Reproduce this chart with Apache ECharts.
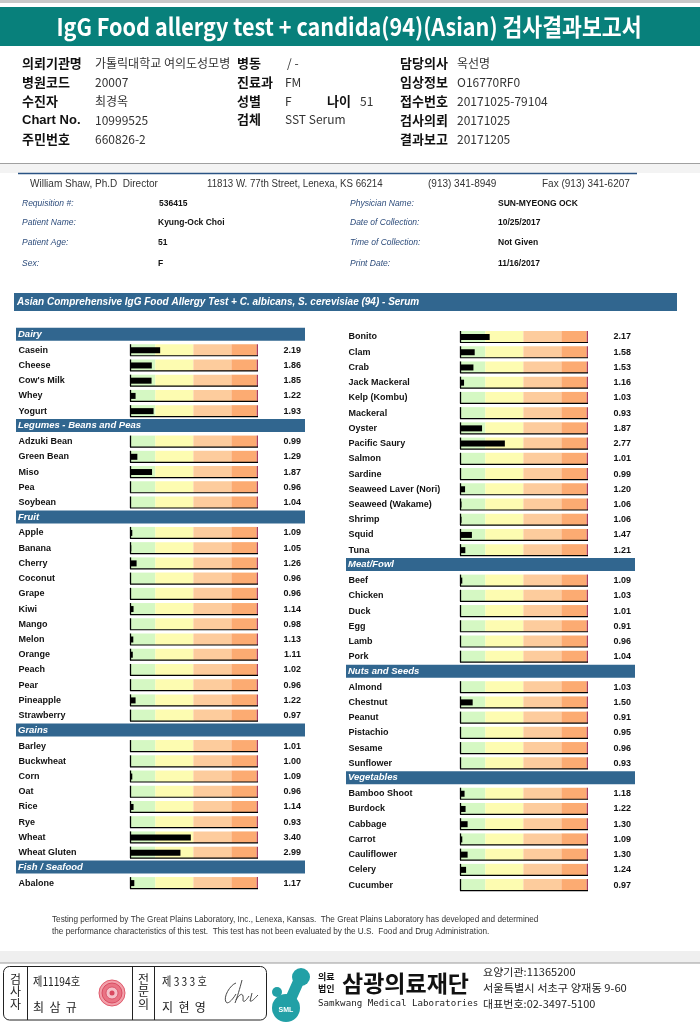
<!DOCTYPE html>
<html><head><meta charset="utf-8">
<script src="https://cdn.jsdelivr.net/npm/echarts@6/dist/echarts.min.js"></script>
<style>html,body{margin:0;padding:0;background:#fff}#c{width:700px;height:1031px}</style>
</head><body><div id="c"></div>
<script>
// ---------------- DATA ----------------
const groupNames = ['Dairy','Legumes - Beans and Peas','Fruit','Grains','Fish / Seafood','Meat/Fowl','Nuts and Seeds','Vegetables'];
const dairyFoods = ['Casein','Cheese',"Cow's Milk",'Whey','Yogurt'];
const dairyValues = [2.19,1.86,1.85,1.22,1.93];
const legumeFoods = ['Adzuki Bean','Green Bean','Miso','Pea','Soybean'];
const legumeValues = [0.99,1.29,1.87,0.96,1.04];
const fruitFoods = ['Apple','Banana','Cherry','Coconut','Grape','Kiwi','Mango','Melon','Orange','Peach','Pear','Pineapple','Strawberry'];
const fruitValues = [1.09,1.05,1.26,0.96,0.96,1.14,0.98,1.13,1.11,1.02,0.96,1.22,0.97];
const grainFoods = ['Barley','Buckwheat','Corn','Oat','Rice','Rye','Wheat','Wheat Gluten'];
const grainValues = [1.01,1.00,1.09,0.96,1.14,0.93,3.40,2.99];
const fishFoods = ['Abalone','Bonito','Clam','Crab','Jack Mackeral','Kelp (Kombu)','Mackeral','Oyster','Pacific Saury','Salmon','Sardine','Seaweed Laver (Nori)','Seaweed (Wakame)','Shrimp','Squid','Tuna'];
const fishValues = [1.17,2.17,1.58,1.53,1.16,1.03,0.93,1.87,2.77,1.01,0.99,1.20,1.06,1.06,1.47,1.21];
const meatFoods = ['Beef','Chicken','Duck','Egg','Lamb','Pork'];
const meatValues = [1.09,1.03,1.01,0.91,0.96,1.04];
const nutFoods = ['Almond','Chestnut','Peanut','Pistachio','Sesame','Sunflower'];
const nutValues = [1.03,1.50,0.91,0.95,0.96,0.93];
const vegFoods = ['Bamboo Shoot','Burdock','Cabbage','Carrot','Cauliflower','Celery','Cucumber'];
const vegValues = [1.18,1.22,1.30,1.09,1.30,1.24,0.97];
const zoneBreaks = [1, 2, 3.5, 5, 6, 6.05];
const rowsPerColumn = 37;

// ---------------- STYLE ----------------
const zoneColors = ['#d5f8c3','#fdfcb1','#fdcc9d','#fcab72','#a93c5e'];
const HEAD = '#31668f';
const KR = '"Noto Sans CJK KR"';
const LS = '"Liberation Sans"';

// build rows
const groups = [[dairyFoods,dairyValues],[legumeFoods,legumeValues],[fruitFoods,fruitValues],[grainFoods,grainValues],
  [fishFoods,fishValues],[meatFoods,meatValues],[nutFoods,nutValues],[vegFoods,vegValues]];
const rows = [];
groups.forEach((g, gi) => {
  rows.push({h: true, name: groupNames[gi]});
  g[0].forEach((n, i) => rows.push({h: false, name: n, value: g[1][i]}));
});
const cols = [rows.slice(0, rowsPerColumn), rows.slice(rowsPerColumn)];

const grids = [
  {left: 130, top: 327.4, width: 128, height: 563.3},
  {left: 460, top: 329.4, width: 128, height: 563.3}
];

const xAxis = [], yAxis = [], series = [];
cols.forEach((col, ci) => {
  xAxis.push({type: 'value', gridIndex: ci, min: 1, max: 6.05, show: false});
  yAxis.push({type: 'category', gridIndex: ci, inverse: true, data: col.map(r => r.name),
    axisLine: {show: false}, axisTick: {show: false}, splitLine: {show: false},
    axisLabel: {interval: 0, align: 'left', margin: 111.4, fontFamily: LS, fontWeight: 'bold', fontSize: 9, color: '#111',
      formatter: (v, i) => col[i].h ? '' : v}});
  yAxis.push({type: 'category', gridIndex: ci, inverse: true, position: 'right', data: col.map((r, i) => 'k' + i),
    axisLine: {show: false}, axisTick: {show: false}, splitLine: {show: false},
    axisLabel: {interval: 0, align: 'right', margin: 43, fontFamily: LS, fontWeight: 'bold', fontSize: 9, color: '#111',
      formatter: (v, i) => col[i].h ? '' : col[i].value.toFixed(2)}});
  series.push({
    type: 'custom', xAxisIndex: ci, yAxisIndex: ci * 2, z: 1, clip: false, silent: true,
    data: col.map((r, i) => [1, i, r.h ? 1 : 0]),
    encode: {x: 0, y: 1},
    renderItem: (params, api) => {
      const idx = api.value(1), isH = api.value(2);
      const c = api.coord([1, idx]);
      const cs = params.coordSys;
      if (isH) {
        return {type: 'group', children: [
          {type: 'rect', shape: {x: cs.x - 114, y: c[1] - 7.3, width: 289, height: 13}, style: {fill: HEAD}},
          {type: 'text', x: cs.x - 112, y: c[1] - 0.8, style: {text: col[idx].name, fill: '#fff', font: 'italic bold 9.5px ' + LS, verticalAlign: 'middle'}}
        ]};
      }
      const y0 = c[1] - 6, h = 11.5;
      const ch = [];
      for (let z = 0; z < zoneColors.length; z++) {
        const x1 = api.coord([zoneBreaks[z], idx])[0], x2 = api.coord([zoneBreaks[z + 1], idx])[0];
        ch.push({type: 'rect', shape: {x: x1, y: y0, width: x2 - x1, height: h}, style: {fill: zoneColors[z]}});
      }
      const xl = api.coord([zoneBreaks[0], idx])[0], xr = api.coord([zoneBreaks[zoneBreaks.length - 1], idx])[0];
      ch.push({type: 'line', shape: {x1: xl + 0.5, y1: y0, x2: xl + 0.5, y2: y0 + h}, style: {stroke: '#000', lineWidth: 1.3}});
      ch.push({type: 'line', shape: {x1: xl, y1: y0 + h, x2: xr, y2: y0 + h}, style: {stroke: '#000', lineWidth: 1.2}});
      return {type: 'group', children: ch};
    }
  });
  series.push({
    type: 'bar', xAxisIndex: ci, yAxisIndex: ci * 2, z: 3, clip: true, barWidth: 6, silent: true,
    itemStyle: {color: '#000'},
    data: col.map(r => r.h ? '-' : r.value)
  });
});

// ---------------- GRAPHIC (report text) ----------------
const g = [];
function T(x, y, text, font, fill, o) {
  o = o || {};
  const st = {text, font, fill, align: o.align || 'left', verticalAlign: 'middle'};
  if (o.width) { st.width = o.width; st.overflow = 'truncate'; st.ellipsis = ''; }
  g.push({type: 'text', x, y, scaleX: o.sx || 1, z: 20, style: st});
}
function R(x, y, w, h, fill, o) {
  o = o || {};
  g.push({type: 'rect', z: o.z || 0, shape: {x, y, width: w, height: h, r: o.r || 0},
    style: {fill: fill, stroke: o.stroke || null, lineWidth: o.lw || 1}});
}
function L(x1, y1, x2, y2, stroke, lw) {
  g.push({type: 'line', z: 5, shape: {x1, y1, x2, y2}, style: {stroke, lineWidth: lw || 1}});
}
function B(x1, y1, c1x, c1y, c2x, c2y, x2, y2) {
  g.push({type: 'bezierCurve', z: 8, shape: {x1, y1, cpx1: c1x, cpy1: c1y, cpx2: c2x, cpy2: c2y, x2, y2},
    style: {fill: null, stroke: '#333', lineWidth: 0.9}});
}

// top
R(0, 0, 700, 3, '#c8c8c8');
R(0, 7, 700, 39, '#08807b');
T(349, 27, 'IgG Food allergy test + candida(94)(Asian) 검사결과보고서', 'bold 24px ' + KR, '#fff', {align: 'center', sx: 0.9});

const lab = 'bold 13px ' + KR, val = '12px ' + KR, vc = '#333';
const ry = [63, 82, 101, 120.5, 139];
T(22, ry[0], '의뢰기관명', lab, '#111'); T(95, ry[0], '가톨릭대학교 여의도성모병원', val, vc, {width: 142});
T(22, ry[1], '병원코드', lab, '#111'); T(95, ry[1], '20007', val, vc);
T(22, ry[2], '수진자', lab, '#111'); T(95, ry[2], '최경옥', val, vc);
T(22, ry[3], 'Chart No.', 'bold 13px ' + LS, '#111'); T(95, ry[3], '10999525', val, vc);
T(22, ry[4], '주민번호', lab, '#111'); T(95, ry[4], '660826-2', val, vc);
T(237, ry[0], '병동', lab, '#111'); T(287, ry[0], '/ -', val, vc);
T(237, ry[1], '진료과', lab, '#111'); T(285, ry[1], 'FM', val, vc);
T(237, ry[2], '성별', lab, '#111'); T(285, ry[2], 'F', val, vc);
T(327, ry[2], '나이', lab, '#111'); T(360, ry[2], '51', val, vc);
T(237, ry[3] - 1, '검체', lab, '#111'); T(285, ry[3] - 1, 'SST Serum', val, vc);
T(400, ry[0], '담당의사', lab, '#111'); T(457, ry[0], '옥선명', val, vc);
T(400, ry[1], '임상정보', lab, '#111'); T(457, ry[1], 'O16770RF0', val, vc);
T(400, ry[2], '접수번호', lab, '#111'); T(457, ry[2], '20171025-79104', val, vc);
T(400, ry[3], '검사의뢰', lab, '#111'); T(457, ry[3], '20171025', val, vc);
T(400, ry[4], '결과보고', lab, '#111'); T(457, ry[4], '20171205', val, vc);

// lab header section
R(0, 163, 700, 10, '#f3f3f3');
L(0, 163.5, 700, 163.5, '#a0a0a0', 1);
L(18, 173.5, 637, 173.5, '#2a5384', 1.5);
const dir = '10px ' + LS;
T(30, 184, 'William Shaw, Ph.D  Director', dir, '#333');
T(207, 184, '11813 W. 77th Street, Lenexa, KS 66214', dir, '#333', {sx: 0.97});
T(428, 184, '(913) 341-8949', dir, '#333');
T(542, 184, 'Fax (913) 341-6207', dir, '#333');
const pl = 'italic 8.5px ' + LS, pv = 'bold 8.5px ' + LS, plc = '#2e4d7c';
const py = [204, 223, 243, 264];
T(22, py[0], 'Requisition #:', pl, plc); T(159, py[0], '536415', pv, '#111');
T(22, py[1], 'Patient Name:', pl, plc); T(158, py[1], 'Kyung-Ock Choi', pv, '#111');
T(22, py[2], 'Patient Age:', pl, plc); T(158, py[2], '51', pv, '#111');
T(22, py[3], 'Sex:', pl, plc); T(158, py[3], 'F', pv, '#111');
T(350, py[0], 'Physician Name:', pl, plc); T(498, py[0], 'SUN-MYEONG OCK', pv, '#111');
T(350, py[1], 'Date of Collection:', pl, plc); T(498, py[1], '10/25/2017', pv, '#111');
T(350, py[2], 'Time of Collection:', pl, plc); T(498, py[2], 'Not Given', pv, '#111');
T(350, py[3], 'Print Date:', pl, plc); T(498, py[3], '11/16/2017', pv, '#111');
R(14, 293, 663, 18, HEAD);
T(17, 302, 'Asian Comprehensive IgG Food Allergy Test + C. albicans, S. cerevisiae (94) - Serum', 'italic bold 10px ' + LS, '#fff');

// footnote
T(52, 920, 'Testing performed by The Great Plains Laboratory, Inc., Lenexa, Kansas.  The Great Plains Laboratory has developed and determined', '8.2px ' + LS, '#333');
T(52, 932, 'the performance characteristics of this test.  This test has not been evaluated by the U.S.  Food and Drug Administration.', '8.2px ' + LS, '#333');

// bottom
R(0, 951, 700, 12, '#efefef');
L(0, 963, 700, 963, '#9a9a9a', 1);
R(3.5, 966.5, 263, 53.5, null, {stroke: '#222', lw: 1, r: 6, z: 5});
L(27.5, 966.5, 27.5, 1020, '#222', 1);
L(132.5, 966.5, 132.5, 1020, '#222', 1);
L(154.5, 966.5, 154.5, 1020, '#222', 1);
const bk = '12px ' + KR;
T(15.5, 979, '검', bk, '#222', {align: 'center'}); T(15.5, 991, '사', bk, '#222', {align: 'center'}); T(15.5, 1004, '자', bk, '#222', {align: 'center'});
T(143.5, 979, '전', bk, '#222', {align: 'center'}); T(143.5, 991, '문', bk, '#222', {align: 'center'}); T(143.5, 1004, '의', bk, '#222', {align: 'center'});
T(33, 981, '제11194호', bk, '#222', {sx: 0.85});
T(33, 1007, '최  삼  규', bk, '#222');
T(162, 981, '제 3 3 3 호', bk, '#222', {sx: 0.85});
T(162, 1007, '지  현  영', bk, '#222');
g.push({type: 'circle', z: 6, shape: {cx: 112, cy: 993, r: 13}, style: {fill: '#f2a0aa', stroke: '#e05a6c', lineWidth: 1}});
g.push({type: 'circle', z: 7, shape: {cx: 112, cy: 993, r: 10}, style: {fill: '#e97484', stroke: '#d33e56', lineWidth: 0.8}});
g.push({type: 'circle', z: 8, shape: {cx: 112, cy: 993, r: 6}, style: {fill: '#f5c0c8', stroke: '#d33e56', lineWidth: 0.7}});
g.push({type: 'circle', z: 9, shape: {cx: 112, cy: 993, r: 2.5}, style: {fill: '#d9485f'}});
// signature
B(236, 983, 230, 985, 223, 997, 226, 1002);
B(226, 1002, 228, 1005, 233, 999, 236, 994);
B(242, 980, 240, 988, 237, 998, 235, 1003);
B(236, 1000, 240, 993, 244, 992, 243, 1000);
B(243, 1000, 243, 1003, 246, 1001, 249, 996);
B(252, 993, 251, 996, 251, 998, 250, 1001);
B(250, 1001, 252, 1002, 255, 998, 258, 995);
// logo
const teal = '#22a0a6';
g.push({type: 'line', z: 6, shape: {x1: 300, y1: 978, x2: 288, y2: 1005}, style: {stroke: teal, lineWidth: 11, lineCap: 'round'}});
g.push({type: 'circle', z: 6, shape: {cx: 301, cy: 977, r: 9}, style: {fill: teal}});
g.push({type: 'circle', z: 6, shape: {cx: 286, cy: 1008, r: 14}, style: {fill: teal}});
g.push({type: 'circle', z: 6, shape: {cx: 277, cy: 992, r: 5}, style: {fill: teal}});
T(286, 1010, 'SML', 'bold 7px ' + LS, '#fff', {align: 'center'});
T(318, 977, '의료', 'bold 9px ' + KR, '#111');
T(318, 989, '법인', 'bold 9px ' + KR, '#111');
T(342, 983, '삼광의료재단', 'bold 23px ' + KR, '#111', {sx: 1.0});
T(318, 1004, 'Samkwang Medical Laboratories', '9px "DejaVu Sans Mono"', '#222', {sx: 1.02});
T(483, 972, '요양기관:11365200', '10.5px ' + KR, '#222', {sx: 1.05});
T(483, 988, '서울특별시 서초구 양재동 9-60', '10.5px ' + KR, '#222', {sx: 1.07});
T(483, 1004, '대표번호:02-3497-5100', '10.5px ' + KR, '#222', {sx: 1.05});

const chart = echarts.init(document.getElementById('c'), null, {renderer: 'canvas'});
chart.setOption({
  animation: false,
  backgroundColor: '#fff',
  grid: grids,
  xAxis, yAxis, series,
  graphic: g
});
</script></body></html>
